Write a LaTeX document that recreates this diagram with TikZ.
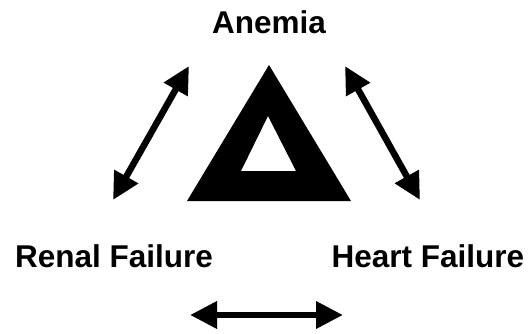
\documentclass[tikz,border=0pt]{standalone}
\usepackage{fontspec}
\setmainfont{Liberation Sans}
\usetikzlibrary{arrows.meta}
\tikzset{
  label/.style={font=\fontsize{31.5}{36}\selectfont\bfseries, anchor=base, inner sep=0pt},
  link/.style={line width=6.5pt, {Triangle[length=27pt,width=26pt]}-{Triangle[length=27pt,width=26pt]}}
}
\begin{document}
\begin{tikzpicture}[x=1pt,y=1pt]
		\useasboundingbox (0,0) rectangle (531,333);
		% Labels
		\node[label] (anemia) at (269,300) {Anemia};
		\node[label] (renal) at (114,66) {Renal Failure};
		\node[label] (heart) at (428,66) {Heart Failure};

		% Triangle
		\fill[even odd rule] (269,268) -- (187,132) -- (351,132) -- cycle
			(268,217) -- (241,162) -- (296,162) -- cycle;

		% Arrow ends
		\coordinate (la) at (189,267);
		\coordinate (lr) at (113,133);
		\coordinate (ra) at (345,267);
		\coordinate (rh) at (420,133);
		\coordinate (br) at (190,18);
		\coordinate (bh) at (343,18);

		% Arrows
		\draw[link] (la) -- (lr);
		\draw[link] (ra) -- (rh);
		\draw[link] (br) -- (bh);
	\end{tikzpicture}
\end{document}
